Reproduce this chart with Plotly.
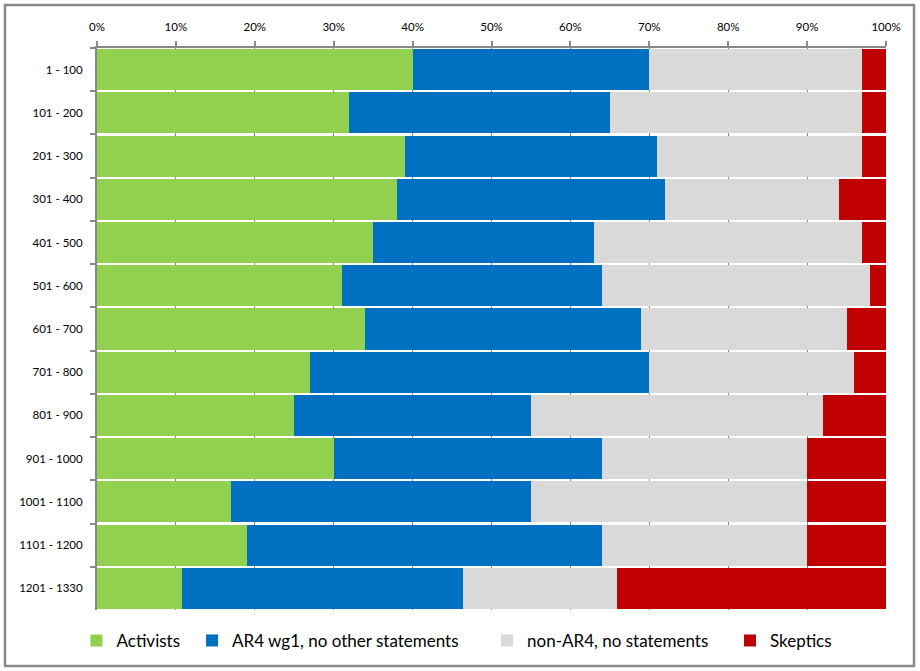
import plotly.graph_objects as go

categories = ["1 - 100", "101 - 200", "201 - 300", "301 - 400", "401 - 500", "501 - 600",
              "601 - 700", "701 - 800", "801 - 900", "901 - 1000", "1001 - 1100",
              "1101 - 1200", "1201 - 1330"]
activists = [40, 32, 39, 38, 35, 31, 34, 27, 25, 30, 17, 19, 10.8]
ar4_wg1 = [30, 33, 32, 34, 28, 33, 35, 43, 30, 34, 38, 45, 35.6]
non_ar4 = [27, 32, 26, 22, 34, 34, 26, 26, 37, 26, 35, 26, 19.5]
skeptics = [3, 3, 3, 6, 3, 2, 5, 4, 8, 10, 10, 10, 34.1]
series_names = ["Activists", "AR4 wg1, no other statements", "non-AR4, no statements", "Skeptics"]
colors = ["#92D050", "#0070C0", "#D9D9D9", "#C00000"]

legend_ids = ["legend2", "legend3", "legend4", "legend5"]
legend_x = [-0.026, 0.1205, 0.4944, 0.8023]

fig = go.Figure()
for name, vals, col, lid in zip(series_names, [activists, ar4_wg1, non_ar4, skeptics], colors, legend_ids):
    fig.add_trace(go.Bar(y=categories, x=vals, name=name, orientation="h", legend=lid,
                         marker=dict(color=col, line=dict(width=0))))

legend_common = dict(orientation="h", y=-0.055, yanchor="middle", xanchor="left",
                     font=dict(size=17, color="black"), bgcolor="rgba(0,0,0,0)")
layout_legends = {lid: dict(x=lx, **legend_common) for lid, lx in zip(legend_ids, legend_x)}

fig.update_layout(
    width=920, height=671,
    barmode="stack", bargap=0.05,
    plot_bgcolor="white", paper_bgcolor="white",
    margin=dict(l=97, r=34, t=48, b=61),
    font=dict(family="Lato, Liberation Sans, sans-serif", color="black"),
    xaxis=dict(side="top", range=[0, 100], dtick=10, ticksuffix="%",
               showgrid=True, gridcolor="#888888", gridwidth=1,
               showline=True, linecolor="#888888", linewidth=2,
               ticks="outside", tickcolor="#888888", ticklen=5, tickwidth=2,
               tickfont=dict(size=11.5), zeroline=False, fixedrange=True,
               ticklabelstandoff=5),
    yaxis=dict(autorange="reversed", showline=True, linecolor="#888888", linewidth=2,
               ticks="outside", tickson="boundaries", tickcolor="#888888", ticklen=5,
               tickwidth=2, tickfont=dict(size=11.5), showgrid=False, ticklabelstandoff=10),
    shapes=[dict(type="rect", xref="paper", yref="paper",
                 x0=-0.1166, x1=1.0355, y0=-0.0996, y1=1.0765,
                 line=dict(color="#888888", width=2.5), fillcolor="rgba(0,0,0,0)", layer="below")],
    **layout_legends,
)

fig.write_html("out.html", config={"displayModeBar": False},
               post_script="document.body.style.margin='0';")
